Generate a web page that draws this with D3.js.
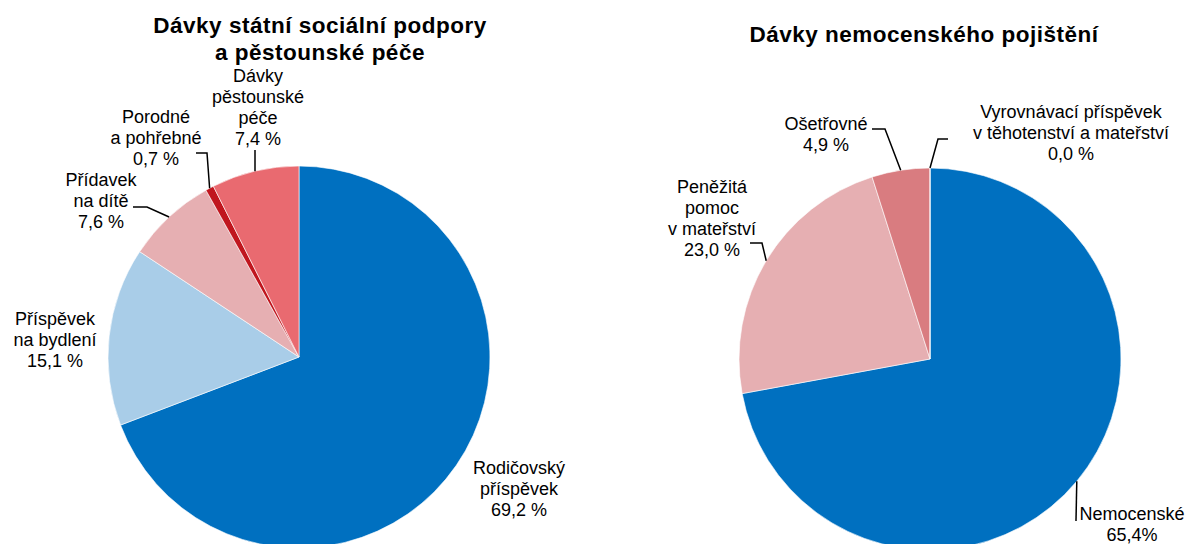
<!DOCTYPE html>
<html>
<head>
<meta charset="utf-8">
<script src="https://cdn.jsdelivr.net/npm/d3@7"></script>
<style>
  html, body { margin: 0; padding: 0; background: #fff; }
  svg { display: block; font-family: "Liberation Sans", Arial, sans-serif; }
</style>
</head>
<body>
<svg id="chart" width="1186" height="544"></svg>
<script>
// ---- data ----
const leftTitle = ["Dávky státní sociální podpory", "a pěstounské péče"];
const leftCategories = ["Rodičovský příspěvek", "Příspěvek na bydlení", "Přídavek na dítě", "Porodné a pohřebné", "Dávky pěstounské péče"];
const leftValues = [69.2, 15.1, 7.6, 0.7, 7.4];
const leftLabels = [
  ["Rodičovský", "příspěvek", "69,2 %"],
  ["Příspěvek", "na bydlení", "15,1 %"],
  ["Přídavek", "na dítě", "7,6 %"],
  ["Porodné", "a pohřebné", "0,7 %"],
  ["Dávky", "pěstounské", "péče", "7,4 %"]
];

const rightTitle = ["Dávky nemocenského pojištění"];
const rightCategories = ["Nemocenské", "Peněžitá pomoc v mateřství", "Ošetřovné", "Vyrovnávací příspěvek v těhotenství a mateřství"];
const rightValues = [72.1, 23.0, 4.9, 0.0];
const rightLabels = [
  ["Nemocenské", "65,4%"],
  ["Peněžitá", "pomoc", "v mateřství", "23,0 %"],
  ["Ošetřovné", "4,9 %"],
  ["Vyrovnávací příspěvek", "v těhotenství a mateřství", "0,0 %"]
];

// ---- styles / layout ----
const leftColors = ["#0070C0", "#A9CDE8", "#E6AFB2", "#C0161E", "#E96A70"];
const rightColors = ["#0070C0", "#E6AFB2", "#D97C80", "#A9CDE8"];

const leftLayout = {
  cx: 299, cy: 357, r: 191,
  titleX: 320, titleY: [33, 60],
  labels: [
    { x: 519, y: 474, leader: null },
    { x: 55, y: 325, leader: null },
    { x: 101, y: 186, leader: [[147, 207], [133, 207]] },
    { x: 156, y: 123, leader: [[207, 153], [196, 153]] },
    { x: 258, y: 82, leader: [[255, 150]] }
  ]
};
const rightLayout = {
  cx: 930, cy: 359, r: 191,
  titleX: 924, titleY: [42],
  labels: [
    { x: 1132, y: 520, leader: [[1076, 521]] },
    { x: 712, y: 193, leader: [[762, 243], [750, 243]] },
    { x: 826, y: 130, leader: [[885, 129], [872, 129]] },
    { x: 1071, y: 118, leader: [[938, 139], [948, 139]] }
  ]
};

const svg = d3.select("#chart");
const lineH = 21;

function drawPie(values, colors, labels, title, layout) {
  const g = svg.append("g");
  const pie = d3.pie().sort(null).value(d => d);
  const arcs = pie(values);
  const arc = d3.arc().innerRadius(0).outerRadius(layout.r);

  const pg = g.append("g").attr("transform", `translate(${layout.cx},${layout.cy})`);
  pg.selectAll("path")
    .data(arcs)
    .join("path")
    .attr("d", arc)
    .attr("fill", (d, i) => colors[i])
    .attr("stroke", "#fff")
    .attr("stroke-width", 0.6);

  // title
  const t = g.append("text")
    .attr("text-anchor", "middle")
    .attr("font-weight", "bold")
    .attr("font-size", 22.5)
    .attr("letter-spacing", 0.5)
    .attr("fill", "#000");
  title.forEach((line, i) => {
    t.append("tspan").attr("x", layout.titleX).attr("y", layout.titleY[i]).text(line);
  });

  // leaders
  arcs.forEach((a, i) => {
    const L = layout.labels[i];
    if (!L.leader) return;
    const mid = (a.startAngle + a.endAngle) / 2;
    const p0 = [layout.cx + layout.r * Math.sin(mid), layout.cy - layout.r * Math.cos(mid)];
    const pts = [p0].concat(L.leader);
    g.append("path")
      .attr("d", d3.line()(pts))
      .attr("fill", "none")
      .attr("stroke", "#000")
      .attr("stroke-width", 1.5);
  });

  // labels
  labels.forEach((lines, i) => {
    const L = layout.labels[i];
    const tx = g.append("text")
      .attr("text-anchor", "middle")
      .attr("font-size", 18)
      .attr("fill", "#000");
    lines.forEach((line, j) => {
      tx.append("tspan").attr("x", L.x).attr("y", L.y + j * lineH).text(line);
    });
  });
}

drawPie(leftValues, leftColors, leftLabels, leftTitle, leftLayout);
drawPie(rightValues, rightColors, rightLabels, rightTitle, rightLayout);
</script>
</body>
</html>
